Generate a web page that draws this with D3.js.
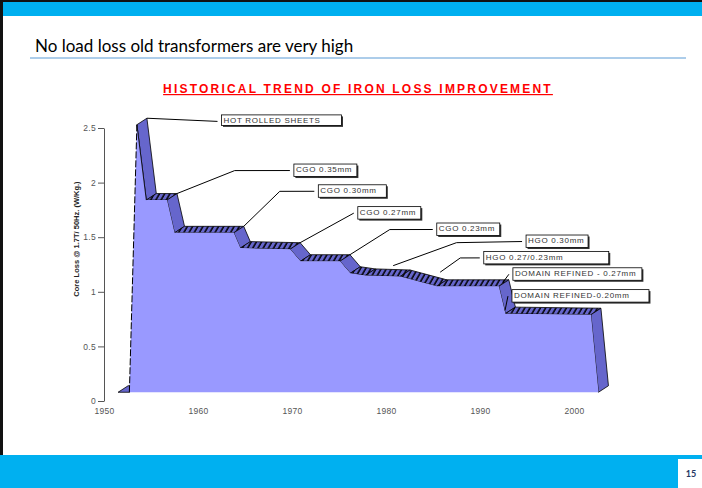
<!DOCTYPE html>
<html lang="en">
<head>
<meta charset="UTF-8">
<title>Historical trend of iron loss improvement</title>
<script src="https://d3js.org/d3.v7.min.js"></script>
<style>
body {margin: 0; background: white;}
svg {display: block;}
.tick text {font-family: "Liberation Sans", Arial, sans-serif; font-size: 8.5px; fill: #555; letter-spacing: 0.3px;}
.box text {font-family: "Liberation Sans", Arial, sans-serif; font-size: 8px; fill: #333; letter-spacing: 0.7px;}
</style>
</head>
<body>
<svg width="702" height="488"></svg>
<script>
// front face of the 3D area
const years    = [1951.5, 1952.7, 1953.5, 1954.5, 1956.7, 1957.5, 1963.8, 1964.5, 1969.8, 1970.9, 1975.1, 1976.2, 1977.8, 1981.5, 1985.4, 1992.0, 1992.7, 2001.8, 2002.6];
const coreLoss = [0.08,   0.08,   2.53,   1.84,   1.84,   1.54,   1.54,   1.40,   1.39,   1.28,   1.28,   1.17,   1.15,   1.14,   1.05,   1.05,   0.80,   0.79,   0.08];
const floorValue = 0.08;

const xTicks = [1950, 1960, 1970, 1980, 1990, 2000];
const yTicks = [0, 0.5, 1, 1.5, 2, 2.5];

// callouts: text, anchor on the curve (year, value), optional elbow, box corner (year, value)
const calloutText   = ["HOT ROLLED SHEETS", "CGO 0.35mm", "CGO 0.30mm", "CGO 0.27mm", "CGO 0.23mm", "HGO 0.30mm", "HGO 0.27/0.23mm", "DOMAIN REFINED - 0.27mm", "DOMAIN REFINED-0.20mm"];
const calloutAnchor = [[1953.5, 2.53], [1956.7, 1.84], [1963.8, 1.54], [1969.8, 1.39], [1975.1, 1.28], [1979.7, 1.18], [1984.7, 1.12], [1991.4, 1.03], [1991.6, 0.77]];
const calloutElbow  = [null, [1963.9, 2.11], [1968.7, 1.92], null, [1980.4, 1.57], [1987.5, 1.45], [1987.9, 1.31], null, null];
const calloutBox    = [[1962.5, 2.62], [1970.2, 2.17], [1972.8, 1.98], [1977.0, 1.78], [1985.4, 1.63], [1994.9, 1.52], [1990.4, 1.37], [1993.5, 1.22], [1993.4, 1.02]];
const boxWidth      = [120, 63, 68, 63, 63, 62, 125, 129, 137];

const svg = d3.select("svg");
const W = 702, H = 488;

// slide frame
svg.append("rect").attr("width", W).attr("height", H).attr("fill", "white");
svg.append("rect").attr("x", 0).attr("y", 0).attr("width", W).attr("height", 2).attr("fill", "#111");
svg.append("rect").attr("x", 0).attr("y", 0).attr("width", 3).attr("height", 455).attr("fill", "#111");
svg.append("rect").attr("x", 3).attr("y", 2).attr("width", W - 3).attr("height", 14).attr("fill", "#00b0f0");
svg.append("rect").attr("x", 0).attr("y", 455).attr("width", W).attr("height", H - 455).attr("fill", "#00b0f0");
svg.append("rect").attr("x", 678).attr("y", 459).attr("width", 24).attr("height", 29).attr("fill", "white");
svg.append("text").attr("x", 691).attr("y", 477).attr("text-anchor", "middle")
  .style("font-family", "Lato, sans-serif").style("font-weight", "bold").style("font-size", "9px")
  .attr("fill", "#1f3864").text("15");

svg.append("text").attr("x", 35).attr("y", 52)
  .style("font-family", "Lato, sans-serif").style("font-size", "17px").attr("fill", "#000")
  .text("No load loss old transformers are very high");
svg.append("line").attr("x1", 30).attr("x2", 686).attr("y1", 58).attr("y2", 58)
  .attr("stroke", "#5b9bd5").attr("stroke-width", 1);

svg.append("text").attr("x", 358).attr("y", 93).attr("text-anchor", "middle")
  .style("font-family", "Liberation Sans, Arial, sans-serif").style("font-weight", "bold")
  .style("font-size", "12px").style("letter-spacing", "2.2px").style("text-decoration", "underline")
  .attr("fill", "#ff0000")
  .text("HISTORICAL TREND OF IRON LOSS IMPROVEMENT");

const x = d3.scaleLinear().domain([1950, 2000]).range([104, 574]);
const y = d3.scaleLinear().domain([0, 2.5]).range([401, 128]);
const depth = [10, -6.5];

const defs = svg.append("defs");
const pat = defs.append("pattern").attr("id", "hatch").attr("patternUnits", "userSpaceOnUse")
  .attr("width", 4.5).attr("height", 4.5).attr("patternTransform", "rotate(30)");
pat.append("rect").attr("width", 4.5).attr("height", 4.5).attr("fill", "#6666cc");
pat.append("line").attr("x1", 1).attr("x2", 1).attr("y1", 0).attr("y2", 4.5)
  .attr("stroke", "#000").attr("stroke-width", 1.5);

// axes
const yAxis = svg.append("g").attr("transform", "translate(104,0)")
  .call(d3.axisLeft(y).tickValues(yTicks).tickSize(6).tickSizeOuter(0).tickPadding(2).tickFormat(d3.format("~g")));
yAxis.select(".domain").attr("stroke", "#555");
yAxis.selectAll(".tick line").attr("stroke", "#555");

const xAxis = svg.append("g").attr("transform", "translate(0,404)")
  .call(d3.axisBottom(x).tickValues(xTicks).tickSize(0).tickPadding(4).tickFormat(d3.format("d")));
xAxis.select(".domain").remove();

svg.append("text").attr("transform", "translate(79,239) rotate(-90)").attr("text-anchor", "middle")
  .style("font-family", "Liberation Sans, Arial, sans-serif").style("font-weight", "bold").style("font-size", "7.5px")
  .attr("fill", "#222")
  .text("Core Loss  @ 1.7T/ 50Hz. (W/Kg.)");

// 3D area
const pts = years.map((d, i) => [x(d), y(coreLoss[i])]);
const chart = svg.append("g");

pts.slice(0, -1).forEach((p, i) => {
  const q = pts[i + 1];
  const sx = q[0] - p[0], sy = q[1] - p[1];
  if (sx * depth[1] - sy * depth[0] >= 0) return; // face hidden behind the front
  const flat = Math.abs(sy / sx) < 1 && coreLoss[i] > floorValue;
  const face = [p, q, [q[0] + depth[0], q[1] + depth[1]], [p[0] + depth[0], p[1] + depth[1]]];
  chart.append("path").attr("d", "M" + face.join("L") + "Z")
    .attr("fill", flat ? "url(#hatch)" : "#6666cc")
    .attr("stroke", "#000").attr("stroke-width", 0.8).attr("stroke-linejoin", "round");
});

const area = d3.area().x(d => x(d[0])).y0(y(floorValue)).y1(d => y(d[1]));
chart.append("path").datum(years.map((d, i) => [d, coreLoss[i]]))
  .attr("d", area).attr("fill", "#9999ff");

// front edge of the rising segment
chart.append("line").attr("x1", pts[1][0]).attr("y1", pts[1][1]).attr("x2", pts[2][0]).attr("y2", pts[2][1])
  .attr("stroke", "#000").attr("stroke-width", 1).attr("stroke-dasharray", "7,2");
chart.append("line").attr("x1", pts[2][0]).attr("y1", pts[2][1]).attr("x2", pts[3][0]).attr("y2", pts[3][1])
  .attr("stroke", "#000").attr("stroke-width", 0.8);

// callouts
const notes = svg.append("g");
calloutText.forEach((t, i) => {
  const a = [x(calloutAnchor[i][0]) + depth[0], y(calloutAnchor[i][1]) + depth[1]];
  const bx = x(calloutBox[i][0]), by = y(calloutBox[i][1]);
  const end = [bx - 4, by + 6.5];
  const line = [a];
  if (calloutElbow[i]) line.push([x(calloutElbow[i][0]), y(calloutElbow[i][1])]);
  line.push(end);
  notes.append("path").attr("d", "M" + line.join("L")).attr("fill", "none")
    .attr("stroke", "#000").attr("stroke-width", 1);
  const g = notes.append("g").attr("class", "box");
  const h = i === 0 ? 10.5 : 12.5;
  g.append("rect").attr("x", bx + 1.5).attr("y", by + 1.5).attr("width", boxWidth[i]).attr("height", h).attr("fill", "#333");
  g.append("rect").attr("x", bx).attr("y", by).attr("width", boxWidth[i]).attr("height", h)
    .attr("fill", "white").attr("stroke", "#000").attr("stroke-width", 0.8);
  g.append("text").attr("x", bx + 2).attr("y", by + 8.3).text(t);
});
</script>
</body>
</html>
